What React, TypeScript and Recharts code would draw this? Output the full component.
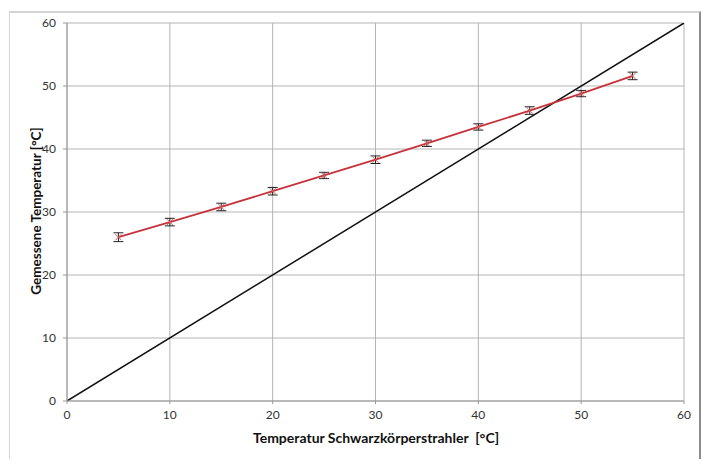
import React from 'react';
import {
  ComposedChart,
  Line,
  XAxis,
  YAxis,
  CartesianGrid,
  ErrorBar,
} from 'recharts';

const xValues = [5, 10, 15, 20, 25, 30, 35, 40, 45, 50, 55];
const measured = [26.0, 28.4, 30.8, 33.3, 35.8, 38.3, 40.9, 43.5, 46.1, 48.8, 51.6];
const errors = [0.7, 0.6, 0.6, 0.6, 0.5, 0.6, 0.5, 0.5, 0.6, 0.5, 0.6];
const idealX = [0, 60];
const idealY = [0, 60];
const ticks = [0, 10, 20, 30, 40, 50, 60];

const xTitle = 'Temperatur Schwarzkörperstrahler\u00a0 [°C]';
const yTitle = 'Gemessene Temperatur [°C]';

const measuredData = xValues.map((x, i) => ({ x, y: measured[i], err: errors[i] }));
const idealData = idealX.map((x, i) => ({ x, y: idealY[i] }));

const FONT = 'Lato, "Open Sans", sans-serif';

const XMark = (props: any) => {
  const { cx, cy } = props;
  if (cx == null || cy == null) return null;
  const s = 3;
  return (
    <g>
      <line x1={cx - s} y1={cy - s} x2={cx + s} y2={cy + s} stroke="#d06060" strokeWidth={1} />
      <line x1={cx - s} y1={cy + s} x2={cx + s} y2={cy - s} stroke="#d06060" strokeWidth={1} />
    </g>
  );
};

export default function App() {
  return (
    <div style={{ position: 'absolute', left: 0, top: 0, width: 715, height: 475, background: '#fff' }}>
      <div
        style={{
          position: 'absolute',
          left: 9,
          top: 11,
          width: 692,
          height: 448,
          borderTop: '2px solid #d4d4d4',
          borderLeft: '1px solid #d4d4d4',
          borderRight: '2px solid #8c8c8c',
          boxSizing: 'border-box',
        }}
      />
      <div style={{ position: 'absolute', left: 0, top: 0 }}>
        <ComposedChart
          width={715}
          height={475}
          margin={{ top: 23, right: 31, bottom: 44, left: 27 }}
        >
          <CartesianGrid stroke="#b4b4b4" strokeWidth={1} />
          <XAxis
            type="number"
            dataKey="x"
            domain={[0, 60]}
            ticks={ticks}
            allowDataOverflow
            height={30}
            stroke="#999"
            tickSize={3}
            tickMargin={6}
            tick={{ fill: '#333', fontSize: 12, fontFamily: FONT }}
            label={{
              content: () => (
                <text
                  x={376}
                  y={443}
                  textAnchor="middle"
                  fontFamily={FONT}
                  fontWeight="bold"
                  fontSize={14}
                  fill="#111"
                >
                  {xTitle}
                </text>
              ),
            }}
          />
          <YAxis
            type="number"
            domain={[0, 60]}
            ticks={ticks}
            allowDataOverflow
            width={40}
            stroke="#999"
            tickSize={4}
            tickMargin={7}
            tick={{ fill: '#333', fontSize: 12, fontFamily: FONT }}
            label={{
              content: () => (
                <text
                  x={41}
                  y={211}
                  transform="rotate(-90 41 211)"
                  textAnchor="middle"
                  fontFamily={FONT}
                  fontWeight="bold"
                  fontSize={13.5}
                  fill="#111"
                >
                  {yTitle}
                </text>
              ),
            }}
          />
          <Line
            data={idealData}
            dataKey="y"
            stroke="#111"
            strokeWidth={1.5}
            dot={false}
            isAnimationActive={false}
          />
          <Line
            data={measuredData}
            dataKey="y"
            stroke="#c8323a"
            strokeWidth={1.8}
            dot={<XMark />}
            isAnimationActive={false}
          >
            <ErrorBar dataKey="err" width={5} stroke="#222" strokeWidth={1} direction="y" />
          </Line>
        </ComposedChart>
      </div>
    </div>
  );
}
